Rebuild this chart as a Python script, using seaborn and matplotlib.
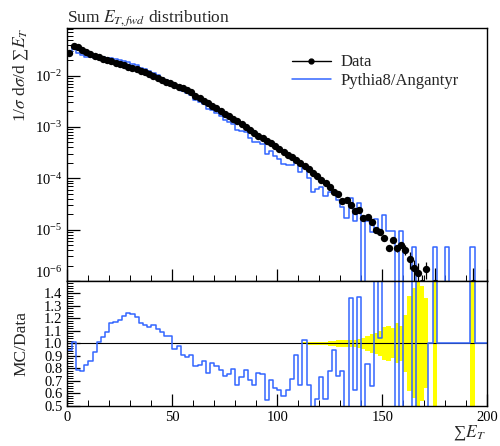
import numpy as np
import pandas as pd
import matplotlib
matplotlib.use("Agg")
import matplotlib.pyplot as plt
import seaborn as sns
from matplotlib.lines import Line2D
from matplotlib.ticker import MultipleLocator, LogLocator, NullFormatter, FormatStrFormatter

# 2 GeV bins from 0 to 200
edges = np.arange(0, 202, 2)
centers = edges[:-1] + 1

# measured 1/sigma dsigma/dSumET (0 = empty bin)
data = [
    0.0275, 0.0380, 0.0355, 0.0316, 0.0282, 0.0263, 0.0240, 0.0229, 0.0214, 0.0200,
    0.0191, 0.0178, 0.0170, 0.0158, 0.0148, 0.0138, 0.0132, 0.0123, 0.0115, 0.0107,
    0.00977, 0.00912, 0.00832, 0.00759, 0.00708, 0.00646, 0.00603, 0.00562, 0.00513, 0.00468,
    0.00407, 0.00363, 0.00324, 0.00288, 0.00257, 0.00229, 0.00204, 0.00182, 0.00162, 0.00145,
    0.00129, 0.00112, 0.00100, 0.000871, 0.000776, 0.000676, 0.000603, 0.000537, 0.000479, 0.000417,
    0.000372, 0.000324, 0.000288, 0.000257, 0.000229, 0.000200, 0.000174, 0.000151, 0.000129, 0.000110,
    9.3e-5, 8.1e-5, 6.8e-5, 5.5e-5, 5.0e-5, 3.6e-5, 3.7e-5, 3.0e-5, 2.3e-5, 2.4e-5,
    1.7e-5, 1.8e-5, 1.38e-5, 1.0e-5, 8.9e-6, 6.9e-6, 4.4e-6, 6.2e-6, 4.4e-6, 5.1e-6,
    4.1e-6, 2.7e-6, 1.8e-6, 1.45e-6, 9.0e-7, 1.74e-6, 0, 9.0e-7, 0, 0,
    0, 0, 0, 0, 0, 0, 9.0e-7, 0, 0, 0,
]

# relative uncertainty of the data
data_relerr = [
    0.004, 0.003, 0.003, 0.003, 0.003, 0.003, 0.003, 0.003, 0.003, 0.003,
    0.003, 0.003, 0.003, 0.003, 0.003, 0.003, 0.003, 0.003, 0.003, 0.003,
    0.003, 0.003, 0.003, 0.003, 0.003, 0.003, 0.003, 0.003, 0.003, 0.003,
    0.003, 0.003, 0.003, 0.003, 0.003, 0.003, 0.003, 0.003, 0.003, 0.003,
    0.004, 0.004, 0.004, 0.004, 0.004, 0.004, 0.004, 0.005, 0.005, 0.005,
    0.005, 0.006, 0.006, 0.006, 0.007, 0.007, 0.008, 0.010, 0.010, 0.012,
    0.015, 0.015, 0.020, 0.020, 0.025, 0.025, 0.030, 0.030, 0.030, 0.035,
    0.045, 0.060, 0.075, 0.085, 0.10, 0.13, 0.14, 0.12, 0.16, 0.14,
    0.23, 0.38, 0.44, 0.55, 0.46, 0.36, 0, 1.0, 0, 0,
    0, 0, 0, 0, 0, 0, 1.0, 0, 0, 0,
]

# Pythia8/Angantyr prediction
mc = [
    0.0261, 0.0384, 0.0280, 0.0246, 0.0234, 0.0226, 0.0223, 0.0231, 0.0225, 0.0218,
    0.0222, 0.0208, 0.0202, 0.0193, 0.0184, 0.0170, 0.0160, 0.0143, 0.0132, 0.0121,
    0.01124, 0.01021, 0.00907, 0.00805, 0.00750, 0.00620, 0.00591, 0.00511, 0.00457, 0.00426,
    0.00334, 0.00301, 0.00279, 0.00219, 0.00216, 0.00188, 0.00161, 0.00135, 0.00122, 0.00115,
    0.000864, 0.000818, 0.000790, 0.000618, 0.000520, 0.000514, 0.000458, 0.000295, 0.000340, 0.000267,
    0.000234, 0.000188, 0.000181, 0.000185, 0.000208, 0.000134, 0.000179, 0.000101, 5.5e-5, 6.1e-5,
    6.8e-5, 4.5e-5, 5.3e-5, 5.2e-5, 3.7e-5, 2.8e-5, 1.7e-5, 4.1e-5, 1.45e-5, 3.3e-5,
    0, 1.5e-5, 9.1e-6, 1.6e-5, 9.3e-6, 1.9e-5, 9.3e-6, 9.3e-6, 0, 9.3e-6,
    0, 0, 4.6e-6, 0, 0, 0, 0, 4.6e-6, 0, 0,
    4.6e-6, 0, 0, 0, 0, 0, 4.6e-6, 0, 0, 0,
]

data = np.array(data)
data_relerr = np.array(data_relerr)
mc = np.array(mc)

has_data = data > 0
ratio = np.where(has_data, mc / np.where(has_data, data, 1.0), 1.0)
band_hi = np.where(has_data, 1 + data_relerr, 1.0)
band_lo = np.where(has_data, 1 - data_relerr, 1.0)

df = pd.DataFrame({"SumET": centers, "mc": mc, "ratio": ratio})
bin_list = [float(e) for e in edges]

sns.set_theme(style="white")
plt.rcParams["font.family"] = ["Liberation Serif", "DejaVu Serif", "DejaVu Sans"]
plt.rcParams["mathtext.fontset"] = "stix"
plt.rcParams["font.size"] = 11

BLUE = "#3366ff"

fig = plt.figure(figsize=(5, 4.46), dpi=100)
ax = fig.add_axes([0.1346, 0.370, 0.840, 0.567])
axr = fig.add_axes([0.1346, 0.0897, 0.840, 0.2803], sharex=ax)

# --- main panel
sns.histplot(data=df, x="SumET", weights="mc", bins=bin_list, element="step", fill=False,
             color=BLUE, linewidth=1.1, ax=ax)
yerr = data_relerr * data
yerr_lo = np.minimum(yerr, 0.999 * data)
m = has_data
ax.errorbar(centers[m], data[m], yerr=[yerr_lo[m], yerr[m]], fmt="none",
            ecolor="black", elinewidth=0.9, zorder=3)
sns.scatterplot(x=centers[m], y=data[m], color="black", s=28, linewidth=0,
                ax=ax, zorder=4)
ax.set_yscale("log")
ax.set_xlim(0, 200)
ax.set_ylim(1e-6, 0.084)
ax.yaxis.set_major_locator(LogLocator(base=10, numticks=10))
ax.yaxis.set_minor_locator(LogLocator(base=10, subs=np.arange(2, 10), numticks=20))
ax.yaxis.set_minor_formatter(NullFormatter())
ax.xaxis.set_major_locator(MultipleLocator(50))
ax.xaxis.set_minor_locator(MultipleLocator(10))
ax.tick_params(axis="x", labelbottom=False)
ax.set_xlabel("")
ax.set_ylabel("1/$\\sigma$ d$\\sigma$/d \u2211$E_T$", loc="top", fontsize=12.5)
ax.yaxis.set_label_coords(-0.09, 1.0)
ax.set_title(r"Sum $E_{T,fwd}$ distribution", loc="left", fontsize=12.5, pad=5)

handles = [
    Line2D([], [], color="black", marker="o", markersize=3.5, lw=1),
    Line2D([], [], color=BLUE, lw=1.1),
]
ax.legend(handles, ["Data", "Pythia8/Angantyr"], loc="upper left",
          bbox_to_anchor=(0.5, 0.955), frameon=False, fontsize=12,
          handlelength=2.3, handletextpad=0.6, labelspacing=0.15)

# --- ratio panel
axr.axhline(1.0, color="black", lw=0.8, zorder=1)
axr.fill_between(edges, np.append(band_lo, band_lo[-1]), np.append(band_hi, band_hi[-1]),
                 step="post", color="#ffff00", linewidth=0, zorder=0)
sns.histplot(data=df, x="SumET", weights="ratio", bins=bin_list, element="step", fill=False,
             color=BLUE, linewidth=1.1, ax=axr, zorder=2)
axr.set_ylim(0.5, 1.5)
axr.set_xlim(0, 200)
axr.set_yticks(np.arange(0.5, 1.45, 0.1))
axr.yaxis.set_major_formatter(FormatStrFormatter("%.1f"))
axr.yaxis.set_minor_locator(MultipleLocator(0.02))
axr.set_ylabel("MC/Data", fontsize=12.5)
axr.yaxis.set_label_coords(-0.09, 0.5)
axr.set_xlabel("\u2211$E_T$", loc="right", fontsize=12.5)
axr.xaxis.set_label_coords(0.995, -0.14)

for a in (ax, axr):
    for s in a.spines.values():
        s.set_color("black")
        s.set_linewidth(1.0)
    a.tick_params(which="major", direction="in", length=9, width=0.9,
                  colors="black", labelsize=10.5, left=True, bottom=True)
    a.tick_params(which="minor", direction="in", length=4.5, width=0.7,
                  colors="black", left=True, bottom=True)

# lift the lowest decade label so it sits on the panel boundary
fig.canvas.draw()
for tick in ax.yaxis.get_major_ticks():
    if np.isclose(tick.get_loc(), 1e-6):
        tick.label1.set_va("bottom")

fig.savefig("out.png", dpi=100)
